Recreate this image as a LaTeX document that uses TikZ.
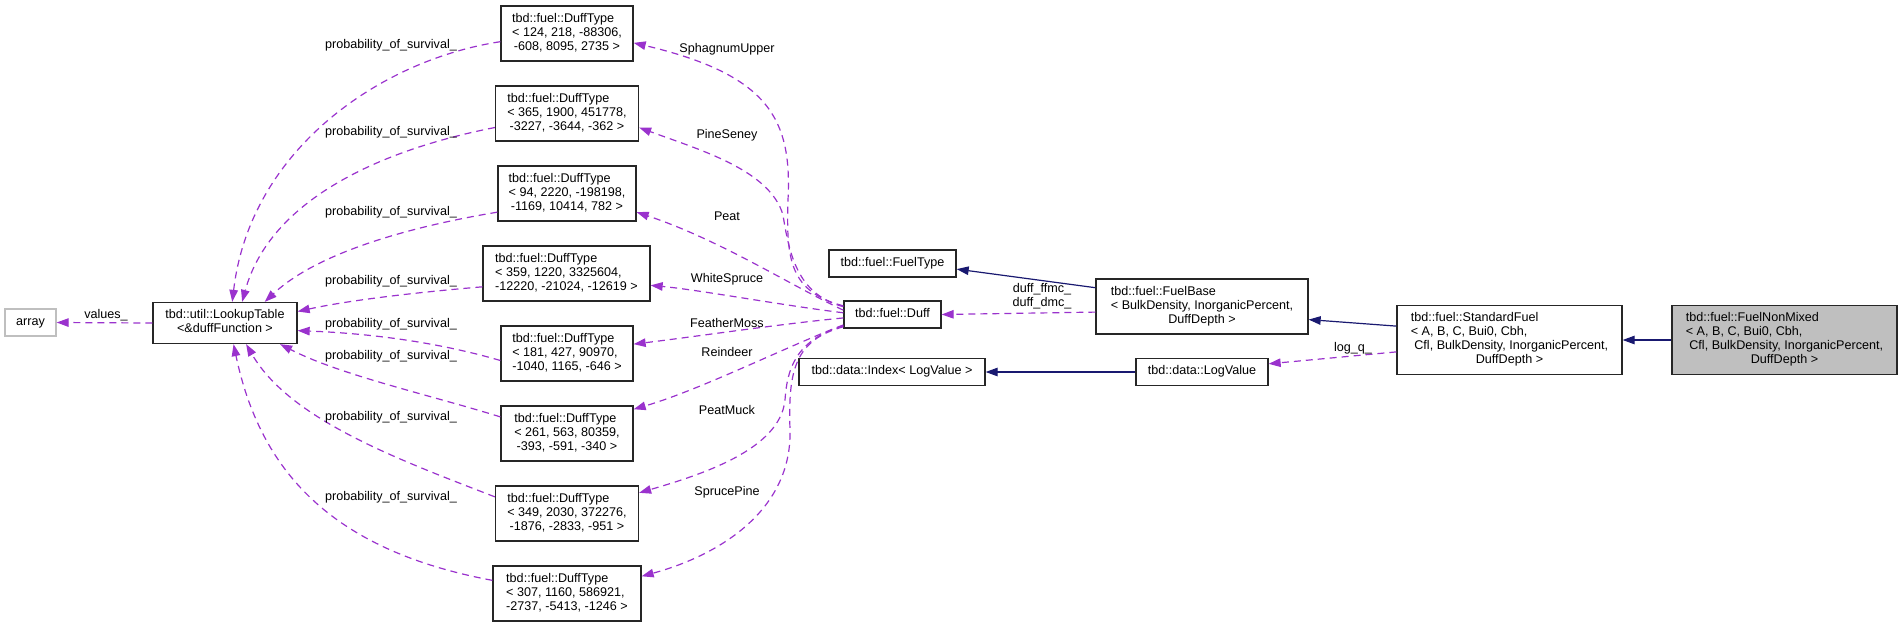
\documentclass[tikz,border=0pt]{standalone}
\usepackage{fontspec}
\setmainfont{Liberation Sans}
\usepackage{xcolor}
\usepackage{tikz}
\usetikzlibrary{arrows.meta, positioning}

\definecolor{edgepurple}{HTML}{9A32CD}
\definecolor{edgenavy}{HTML}{191970}
\definecolor{greyline}{HTML}{BFBFBF}

\newcommand{\cbox}[1]{\begin{tabular}{@{}c@{}}#1\end{tabular}}
\newcommand{\boxtext}[2]{\begin{tabular}{@{}l@{}}#1\\\multicolumn{1}{@{}c@{}}{#2}\end{tabular}}
\newcommand{\dufflabel}[2]{\boxtext{tbd::fuel::DuffType\\< #1}{#2 >}}

\begin{document}
\begin{tikzpicture}[x=1pt, y=-1pt,
				>={Triangle[length=12pt, width=8.5pt]},
				every node/.style={font=\fontsize{12.6}{14}\selectfont},
				cls/.style={draw=black!85, line width=1.3pt, fill=white, inner xsep=4pt, inner ysep=6.5pt},
				ext/.style={cls, draw=greyline},
				dep/.style={->, color=edgepurple, line width=1.2pt, dash pattern=on 7pt off 5pt},
				inh/.style={->, color=edgenavy, line width=1.2pt},
				lbl/.style={inner sep=0pt, text=black}]
				\useasboundingbox (0,0) rectangle (1903,627);
				\node at (30.5,322.5) (arr) [ext, minimum width=51] {\cbox{array}};
				\node at (225,323) (lut) [cls, minimum width=144] {\cbox{tbd::util::LookupTable\\<\&duffFunction >}};
				\node at (567,33.5) (d1) [cls, minimum width=132] {\dufflabel{124, 218, -88306,}{-608, 8095, 2735}};
				\node at (567,113.5) (d2) [cls, minimum width=143] {\dufflabel{365, 1900, 451778,}{-3227, -3644, -362}};
				\node at (567,193.5) (d3) [cls, minimum width=138] {\dufflabel{94, 2220, -198198,}{-1169, 10414, 782}};
				\node at (566.5,273.5) (d4) [cls, minimum width=167] {\dufflabel{359, 1220, 3325604,}{-12220, -21024, -12619}};
				\node at (567,353.5) (d5) [cls, minimum width=132] {\dufflabel{181, 427, 90970,}{-1040, 1165, -646}};
				\node at (567,433.5) (d6) [cls, minimum width=132] {\dufflabel{261, 563, 80359,}{-393, -591, -340}};
				\node at (567,513.5) (d7) [cls, minimum width=143] {\dufflabel{349, 2030, 372276,}{-1876, -2833, -951}};
				\node at (567,593.5) (d8) [cls, minimum width=148] {\dufflabel{307, 1160, 586921,}{-2737, -5413, -1246}};
				\node at (892.5,263.5) (ft) [cls, minimum width=127] {\cbox{tbd::fuel::FuelType}};
				\node at (892.5,314.5) (duff) [cls, minimum width=97] {\cbox{tbd::fuel::Duff}};
				\node at (892,372) (idx) [cls, minimum width=186] {\cbox{tbd::data::Index< LogValue >}};
				\node at (1202,306.5) (fb) [cls, minimum width=212] {\boxtext{tbd::fuel::FuelBase\\< BulkDensity, InorganicPercent,}{DuffDepth >}};
				\node at (1202,372) (lv) [cls, minimum width=132] {\cbox{tbd::data::LogValue}};
				\node at (1509.5,340) (sf) [cls, minimum width=225] {\boxtext{tbd::fuel::StandardFuel\\< A, B, C, Bui0, Cbh,\\\ Cfl, BulkDensity, InorganicPercent,}{DuffDepth >}};
				\node at (1784.5,340) (fn) [cls, fill=greyline, minimum width=225] {\boxtext{tbd::fuel::FuelNonMixed\\< A, B, C, Bui0, Cbh,\\\ Cfl, BulkDensity, InorganicPercent,}{DuffDepth >}};
				\draw[dep] (lut.west) -- (arr.east) node[lbl] at (106,315) {values\_};
				\draw[dep] (d1.187) .. controls (380,60) and (250,150) .. (lut.71) node[lbl] at (391,45) {probability\_of\_survival\_};
				\draw[dep] (d2.191) .. controls (380,150) and (270,200) .. (lut.51) node[lbl] at (391,132) {probability\_of\_survival\_};
				\draw[dep] (d3.195) .. controls (420,225) and (320,250) .. (lut.28) node[lbl] at (391,212) {probability\_of\_survival\_};
				\draw[dep] (d4.189) .. controls (420,292) and (350,300) .. (lut.9) node[lbl] at (391,281) {probability\_of\_survival\_};
				\draw[dep] (d5.186) .. controls (430,340) and (360,333) .. (lut.-6) node[lbl] at (391,324) {probability\_of\_survival\_};
				\draw[dep] (d6.166) .. controls (430,395) and (340,375) .. (lut.-21) node[lbl] at (391,356) {probability\_of\_survival\_};
				\draw[dep] (d7.167) .. controls (400,460) and (290,420) .. (lut.-45) node[lbl] at (391,417) {probability\_of\_survival\_};
				\draw[dep] (d8.170) .. controls (330,550) and (260,470) .. (lut.-68) node[lbl] at (391,497) {probability\_of\_survival\_};
				\draw[dep] (duff.170) .. controls (790,292) and (786,260) .. (788,200) .. controls (792,120) and (770,75) .. (d1.-8) node[lbl] at (727,49) {SphagnumUpper};
				\draw[dep] (duff.171) .. controls (800,295) and (790,260) .. (783,215) .. controls (770,170) and (700,150) .. (d2.-11) node[lbl] at (727,135) {PineSeney};
				\draw[dep] (duff.175) .. controls (790,285) and (720,240) .. (d3.-15) node[lbl] at (727,216) {Peat};
				\draw[dep] (duff.178) .. controls (780,305) and (700,290) .. (d4.-8) node[lbl] at (727,279) {WhiteSpruce};
				\draw[dep] (duff.184) .. controls (780,324) and (700,336) .. (d5.8) node[lbl] at (727,323) {FeatherMoss};
				\draw[dep] (duff.192) .. controls (790,345) and (700,390) .. (d6.20) node[lbl] at (727,352) {Reindeer};
				\draw[dep] (duff.193) .. controls (795,340) and (787,370) .. (785,400) .. controls (780,450) and (700,475) .. (d7.16) node[lbl] at (727,410) {PeatMuck};
				\draw[dep] (duff.194) .. controls (795,340) and (788,370) .. (790,430) .. controls (792,510) and (720,555) .. (d8.13) node[lbl] at (727,492) {SprucePine};
				\draw[inh] (fb.170) -- (ft.-5);
				\draw[dep] (fb.183) -- (duff.east) node[lbl, align=center] at (1042,296) {duff\_ffmc\_\\duff\_dmc\_};
				\draw[inh] (sf.173) -- (fb.-7);
				\draw[dep] (sf.186) -- (lv.7) node[lbl] at (1353,348) {log\_q\_};
				\draw[inh] (lv.west) -- (idx.east);
				\draw[inh] (fn.west) -- (sf.east);
			\end{tikzpicture}
\end{document}
